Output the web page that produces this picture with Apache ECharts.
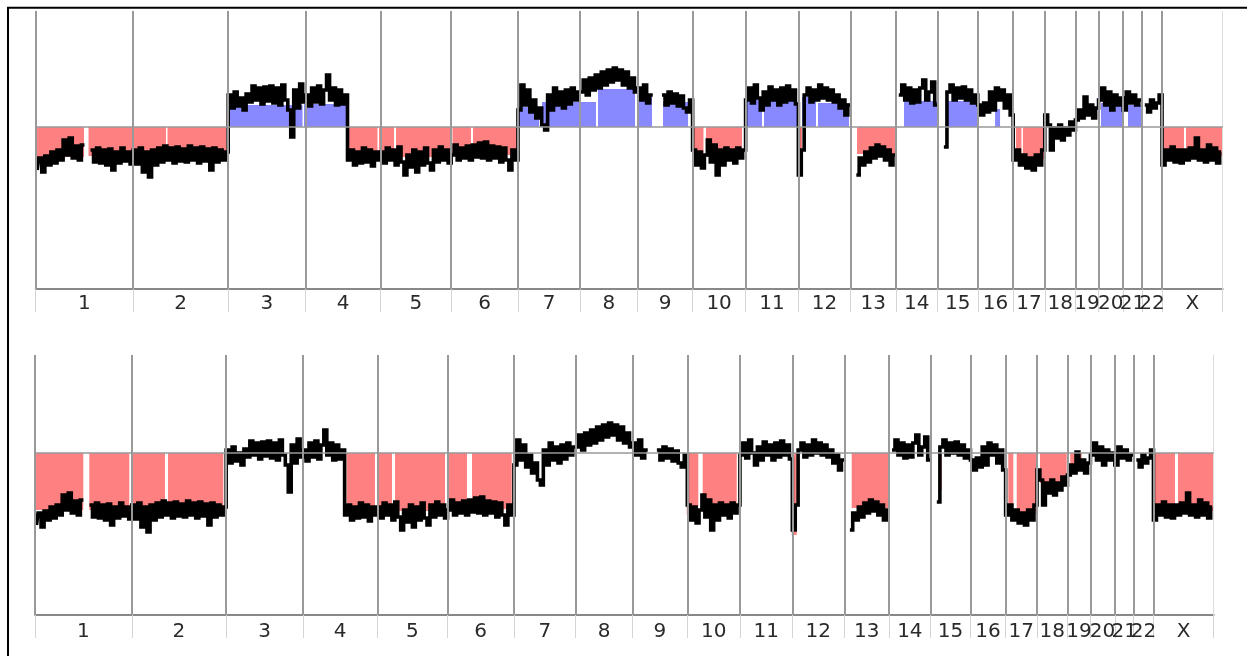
<!DOCTYPE html>
<html>
<head>
<meta charset="utf-8">
<title>Copy number profile</title>
<script src="https://cdn.jsdelivr.net/npm/echarts@6/dist/echarts.min.js"></script>
<style>
  html, body { margin: 0; padding: 0; background: #fff; }
  #chart { width: 1247px; height: 656px; }
</style>
</head>
<body>
<div id="chart"></div>
<script>
// chromosome names and lengths (Mb)
const chromNames = ['1','2','3','4','5','6','7','8','9','10','11','12','13','14','15','16','17','18','19','20','21','22','X']
const chromLengths = [249.3, 243.2, 198.0, 191.2, 180.9, 171.1, 159.1, 146.4, 141.2, 135.5, 135.0, 133.9,
  115.2, 107.3, 102.5, 90.4, 81.2, 78.1, 59.1, 63.0, 48.1, 51.3, 155.3]

// log2 ratio, evenly spaced along each chromosome (null = no probes)
const chr1 = [-0.43,-0.31,-0.45,-0.29,-0.38,-0.25,-0.36,-0.23,-0.33,-0.13,-0.28,-0.11,-0.31,-0.19,-0.33,-0.18,null,null,-0.23,-0.35,-0.21,-0.36,-0.23,-0.38,-0.22,-0.43,-0.25,-0.36,-0.21,-0.34,-0.25,-0.37]
const chr2 = [-0.23,-0.37,-0.21,-0.45,-0.25,-0.50,-0.23,-0.38,-0.21,-0.35,-0.19,-0.33,-0.21,-0.36,-0.20,-0.34,-0.22,-0.35,-0.19,-0.33,-0.21,-0.36,-0.20,-0.34,-0.22,-0.43,-0.21,-0.35,-0.23,-0.33,-0.25]
const chr3 = [0.32,0.19,0.35,0.21,0.29,0.17,0.33,0.25,0.41,0.27,0.39,0.23,0.40,0.26,0.41,0.24,0.39,0.22,0.42,0.27,0.17,-0.10,0.37,0.19,0.43,0.25]
const chr4 = [0.32,0.21,0.39,0.25,0.41,0.23,0.37,0.52,0.27,0.39,0.22,0.37,0.23,0.32,-0.33,-0.23,-0.38,-0.25,-0.36,-0.21,-0.35,-0.23,-0.39,-0.25,-0.33]
const chr5 = [-0.25,-0.36,-0.21,-0.33,-0.23,-0.38,-0.20,-0.35,-0.48,-0.28,-0.40,-0.23,-0.45,-0.25,-0.38,-0.21,-0.36,-0.43,-0.23,-0.35,-0.20,-0.33,-0.23,-0.36]
const chr6 = [-0.28,-0.18,-0.33,-0.21,-0.31,-0.19,-0.33,-0.18,-0.30,-0.16,-0.31,-0.15,-0.33,-0.19,-0.31,-0.20,-0.35,-0.21,-0.33,-0.43,-0.23,-0.33]
const chr7 = [0.17,0.42,0.22,0.37,0.15,0.27,0.09,0.19,0.02,-0.03,0.32,0.17,0.39,0.22,0.35,0.19,0.37,0.23,0.39,0.27,0.35]
const chr8 = [0.35,0.47,0.32,0.49,0.37,0.52,0.39,0.55,0.42,0.57,0.45,0.59,0.47,0.57,0.42,0.55,0.39,0.49,0.35]
const chr9 = [0.39,0.27,0.42,0.24,0.32,null,null,null,0.32,0.22,0.35,0.24,0.33,0.21,0.31,0.19,0.15,0.27]
const chr10 = [-0.23,-0.38,-0.25,-0.41,-0.28,-0.13,-0.35,-0.18,-0.48,-0.23,-0.38,-0.21,-0.33,-0.23,-0.36,-0.21,-0.31,-0.23]
const chr11 = [0.27,0.39,0.24,0.42,0.29,0.17,0.35,0.22,0.40,0.27,0.37,0.22,0.39,0.25,0.41,0.27,0.37,0.23]
const chr12 = [-0.48,-0.23,0.32,0.39,0.25,0.37,0.27,0.42,0.29,0.39,0.27,0.37,0.25,0.32,0.19,0.27,0.12,0.22]
const chr13 = [null,null,-0.48,-0.31,-0.38,-0.25,-0.35,-0.21,-0.31,-0.18,-0.29,-0.20,-0.33,-0.23,-0.38,-0.28]
const chr14 = [null,0.32,0.42,0.27,0.39,0.24,0.37,0.25,0.39,0.47,0.27,0.35,0.45,0.22]
const chr15 = [null,null,-0.20,0.35,0.42,0.27,0.39,0.29,0.40,0.27,0.37,0.24,0.32]
const chr16 = [0.22,0.12,0.24,0.15,0.35,0.17,0.39,0.27,0.37,0.19,0.32,0.12]
const chr17 = [-0.33,-0.23,-0.38,-0.28,-0.41,-0.31,-0.43,-0.28,-0.38,-0.23]
const chr18 = [0.12,0.02,-0.23,-0.01,-0.11,0.02,-0.13,-0.01,-0.08,0.05,-0.03]
const chr19 = [0.07,0.17,0.09,0.30,0.12,0.22,0.09,0.19]
const chr20 = [0.27,0.39,0.22,0.35,0.17,0.32,0.22,0.29]
const chr21 = [0.17,0.35,0.24,0.32,0.22,0.27]
const chr22 = [null,0.22,0.15,0.27,0.19,0.24,0.32]
const chrX = [-0.38,-0.23,-0.33,-0.20,-0.35,-0.23,-0.36,-0.23,-0.33,-0.21,-0.31,-0.11,-0.33,-0.23,-0.35,-0.18,-0.33,-0.21,-0.36,-0.25]
const profile = [chr1, chr2, chr3, chr4, chr5, chr6, chr7, chr8, chr9, chr10, chr11, chr12,
  chr13, chr14, chr15, chr16, chr17, chr18, chr19, chr20, chr21, chr22, chrX]

// lower panel shows the same profile re-centred
const recenter = 0.29

// called segments [startMb, endMb, level] (genome coordinates)
const topLosses = [[0,123.6,-0.30],[135.1,333.3,-0.29],[337.1,488.1,-0.28],[797.6,874.3,-0.30],[878.2,916.6,-0.30],
  [921.7,1061.0,-0.30],[1066.1,1113.5,-0.28],[1118.6,1231.2,-0.28],[1680.6,1708.2,-0.33],[1714.6,1806.7,-0.30],
  [1949.9,1960.2,-0.26],[2100.9,2198.1,-0.27],[2507.4,2521.5,-0.32],[2525.3,2579.0,-0.32],[2884.4,2937.3,-0.29],[2942.4,3036.3,-0.29]]
const topGains = [[490.1,682.5,0.22],[686.3,797.6,0.23],[1234.5,1287.4,0.20],[1295.1,1433.3,0.25],[1438.4,1533.1,0.38],
  [1540.7,1576.5,0.30],[1604.7,1668.7,0.25],[1815.1,1857.9,0.28],[1863.0,1947.4,0.28],[1960.2,1996.0,0.30],
  [2001.1,2080.4,0.24],[2221.1,2305.5,0.26],[2328.5,2407.8,0.26],[2454.0,2466.8,0.18],[2725.0,2781.3,0.24],[2794.1,2830.0,0.22]]
const bottomLosses = [[0,124.4,-0.57],[139.9,242.9,-0.57],[249.1,334.9,-0.58],[342.6,485.1,-0.57],[802.9,875.8,-0.58],
  [883.6,919.6,-0.58],[927.4,1056.2,-0.58],[1063.9,1112.8,-0.56],[1125.7,1228.0,-0.56],[1678.8,1708.6,-0.62],
  [1720.0,1807.6,-0.58],[1949.2,1962.1,-0.82],[2103.8,2198.1,-0.55],[2328.7,2335.7,-0.37],[2507.2,2520.1,-0.60],
  [2528.9,2580.4,-0.60],[2588.9,2657.6,-0.30],[2666.7,2696.3,-0.14],[2885.1,2936.6,-0.58],[2944.4,3036.3,-0.58]]

const starts = []
let acc = 0
chromLengths.forEach(l => { starts.push(acc); acc += l })
const total = acc
const boundaries = starts.slice()
const mids = starts.map((s, i) => s + chromLengths[i] / 2)

function profilePoints(shift) {
  const pts = []
  profile.forEach((vals, c) => {
    const step = chromLengths[c] / vals.length
    vals.forEach((v, i) => pts.push([starts[c] + (i + 0.5) * step, v === null ? '-' : +(v - shift).toFixed(3)]))
  })
  return pts
}

function segSeries(idx, data, color) {
  return {
    type: 'custom', xAxisIndex: idx, yAxisIndex: idx, z: 1, silent: true, animation: false,
    data: data,
    encode: { x: [0, 1], y: 2 },
    renderItem: (params, api) => {
      const a = api.coord([api.value(0), api.value(2)])
      const b = api.coord([api.value(1), 0])
      return {
        type: 'rect',
        shape: { x: a[0], y: Math.min(a[1], b[1]), width: b[0] - a[0], height: Math.abs(b[1] - a[1]) },
        style: { fill: color }
      }
    }
  }
}

function guideSeries(idx) {
  return {
    type: 'line', xAxisIndex: idx, yAxisIndex: idx, z: 2, silent: true, data: [], showSymbol: false,
    markLine: {
      silent: true, symbol: 'none', animation: false, label: { show: false },
      lineStyle: { color: '#999', width: 2, type: 'solid' },
      emphasis: { disabled: true },
      data: boundaries.map(b => ({ xAxis: b }))
        .concat([{ xAxis: total, lineStyle: { color: '#ddd', width: 1, type: 'solid' } },
                 { yAxis: 0, lineStyle: { color: '#999', width: 1.5, type: 'solid' } }])
    }
  }
}

function traceSeries(idx, shift) {
  return {
    type: 'line', xAxisIndex: idx, yAxisIndex: idx, z: 3, silent: true, animation: false,
    step: 'middle', showSymbol: false, connectNulls: false,
    data: profilePoints(shift),
    lineStyle: { color: '#000', width: 3.6, join: 'miter' }
  }
}

function xAxisFor(idx, margin) {
  return {
    type: 'value', gridIndex: idx, min: 0, max: total,
    axisLine: { show: true, onZero: false, lineStyle: { color: '#888', width: 2 } },
    axisTick: { show: true, customValues: boundaries.concat([total]), length: 23, lineStyle: { color: '#d4d4d4', width: 1 } },
    splitLine: { show: false },
    axisLabel: {
      customValues: mids, margin: margin, color: '#2a2a2a', fontSize: 20, fontFamily: 'DejaVu Sans',
      formatter: v => {
        let best = 0
        mids.forEach((m, i) => { if (Math.abs(m - v) < Math.abs(mids[best] - v)) best = i })
        return chromNames[best]
      }
    }
  }
}

const chart = echarts.init(document.getElementById('chart'))
chart.setOption({
  animation: false,
  grid: [
    { left: 35.7, top: 11, width: 1187, height: 278 },
    { left: 35, top: 355, width: 1178.7, height: 260 }
  ],
  xAxis: [xAxisFor(0, 5), xAxisFor(1, 7)],
  yAxis: [
    { type: 'value', gridIndex: 0, min: -1.62, max: 1.16, show: false },
    { type: 'value', gridIndex: 1, min: -1.62, max: 0.98, show: false }
  ],
  graphic: [{
    type: 'polyline', silent: true,
    shape: { points: [[8, 656], [8, 7.7], [1247, 7.7]] },
    style: { stroke: '#000', lineWidth: 2, fill: null }
  }],
  series: [
    segSeries(0, topLosses, '#ff8080'),
    segSeries(0, topGains, '#8888ff'),
    guideSeries(0),
    traceSeries(0, 0),
    segSeries(1, bottomLosses, '#ff8080'),
    guideSeries(1),
    traceSeries(1, recenter)
  ]
})
window.addEventListener('resize', () => chart.resize())
</script>
</body>
</html>
